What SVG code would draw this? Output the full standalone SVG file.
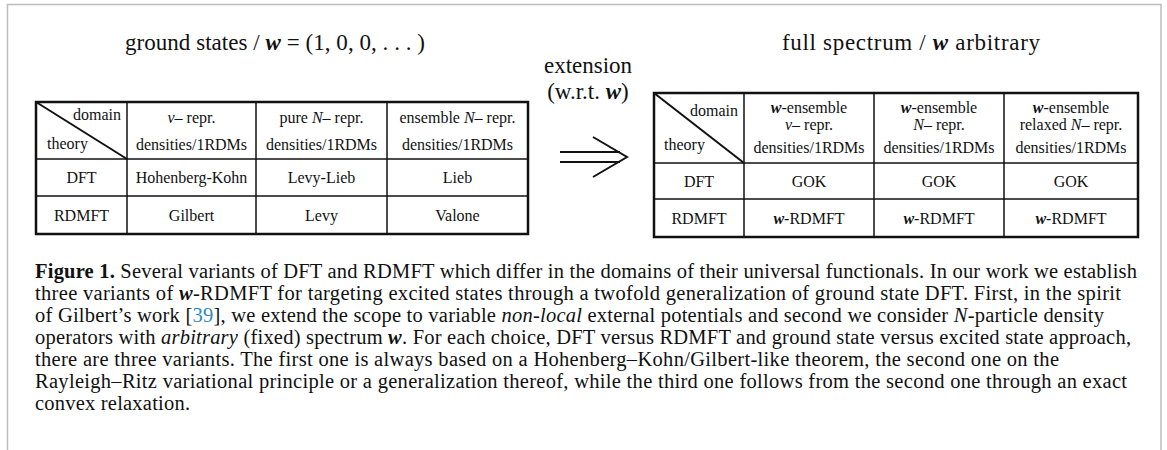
<svg xmlns="http://www.w3.org/2000/svg" width="1167" height="450" viewBox="0 0 1167 450">
<style>
.t{font-family:"Liberation Serif","DejaVu Serif",serif;fill:#111;}
.c{font-size:16px;text-anchor:middle;}
.h{font-size:23px;}
.cap{font-size:20.5px;}
.b{font-weight:bold;}
.i{font-style:italic;}
.bi{font-weight:bold;font-style:italic;}
.outer{fill:none;stroke:#111;stroke-width:2.5;}
.inner{stroke:#111;stroke-width:1.5;}
.diag{stroke:#111;stroke-width:2;}
.frame{stroke:#bdbdbd;stroke-width:1.5;fill:none;}
.arr{stroke:#111;stroke-width:2;fill:none;}
</style>
<rect width="1167" height="450" fill="#fff"/>
<g id="frame">
<polyline class="frame" points="7.5,450 7.5,4.5 1161,4.5 1161,450"/>
</g>
<g id="title-left">
<text class="t h" x="125" y="50" textLength="300" lengthAdjust="spacing">ground states / <tspan class="bi">w</tspan> = (1, 0, 0, . . . )</text>
</g>
<g id="title-right">
<text class="t h" x="782" y="50" textLength="258" lengthAdjust="spacing">full spectrum / <tspan class="bi">w</tspan> arbitrary</text>
</g>
<g id="extension-label">
<text class="t h" x="588" y="73" text-anchor="middle">extension</text>
<text class="t h" x="588" y="99" text-anchor="middle">(w.r.t. <tspan class="bi">w</tspan>)</text>
</g>
<g id="connectors">
<line class="arr" x1="560" y1="152" x2="620" y2="152"/>
<line class="arr" x1="560" y1="162" x2="620" y2="162"/>
<polyline class="arr" points="593,137 627,157 593,177"/>
</g>
<g id="table-left">
<rect class="outer" x="36" y="102" width="492" height="132"/>
<line class="inner" x1="127" y1="102" x2="127" y2="234"/>
<line class="inner" x1="256" y1="102" x2="256" y2="234"/>
<line class="inner" x1="387" y1="102" x2="387" y2="234"/>
<line class="inner" x1="36" y1="159" x2="528" y2="159"/>
<line class="inner" x1="36" y1="196" x2="528" y2="196"/>
<line class="diag" x1="36" y1="102" x2="127" y2="159"/>
<text class="t c" x="121" y="120" style="text-anchor:end">domain</text>
<text class="t c" x="47" y="149" style="text-anchor:start">theory</text>
<text class="t c" x="191.5" y="123"><tspan class="i">v</tspan>– repr.</text>
<text class="t c" x="191.5" y="150">densities/1RDMs</text>
<text class="t c" x="321.5" y="123">pure <tspan class="i">N</tspan>– repr.</text>
<text class="t c" x="321.5" y="150">densities/1RDMs</text>
<text class="t c" x="457.5" y="123">ensemble <tspan class="i">N</tspan>– repr.</text>
<text class="t c" x="457.5" y="150">densities/1RDMs</text>
<text class="t c" x="81.5" y="183">DFT</text>
<text class="t c" x="191.5" y="183">Hohenberg-Kohn</text>
<text class="t c" x="321.5" y="183">Levy-Lieb</text>
<text class="t c" x="457.5" y="183">Lieb</text>
<text class="t c" x="81.5" y="220.5">RDMFT</text>
<text class="t c" x="191.5" y="220.5">Gilbert</text>
<text class="t c" x="321.5" y="220.5">Levy</text>
<text class="t c" x="457.5" y="220.5">Valone</text>
</g>
<g id="table-right">
<rect class="outer" x="654" y="93" width="484" height="144"/>
<line class="inner" x1="744" y1="93" x2="744" y2="237"/>
<line class="inner" x1="874" y1="93" x2="874" y2="237"/>
<line class="inner" x1="1004" y1="93" x2="1004" y2="237"/>
<line class="inner" x1="654" y1="163" x2="1138" y2="163"/>
<line class="inner" x1="654" y1="199" x2="1138" y2="199"/>
<line class="diag" x1="654" y1="93" x2="744" y2="163"/>
<text class="t c" x="738" y="116" style="text-anchor:end">domain</text>
<text class="t c" x="664" y="150" style="text-anchor:start">theory</text>
<text class="t c" x="809" y="113"><tspan class="bi">w</tspan>-ensemble</text>
<text class="t c" x="809" y="130"><tspan class="i">v</tspan>– repr.</text>
<text class="t c" x="809" y="153">densities/1RDMs</text>
<text class="t c" x="939" y="113"><tspan class="bi">w</tspan>-ensemble</text>
<text class="t c" x="939" y="130"><tspan class="i">N</tspan>– repr.</text>
<text class="t c" x="939" y="153">densities/1RDMs</text>
<text class="t c" x="1071" y="113"><tspan class="bi">w</tspan>-ensemble</text>
<text class="t c" x="1071" y="130">relaxed <tspan class="i">N</tspan>– repr.</text>
<text class="t c" x="1071" y="153">densities/1RDMs</text>
<text class="t c" x="699" y="186.5">DFT</text>
<text class="t c" x="809" y="186.5">GOK</text>
<text class="t c" x="939" y="186.5">GOK</text>
<text class="t c" x="1071" y="186.5">GOK</text>
<text class="t c" x="699" y="223.5">RDMFT</text>
<text class="t c" x="809" y="223.5"><tspan class="bi">w</tspan>-RDMFT</text>
<text class="t c" x="939" y="223.5"><tspan class="bi">w</tspan>-RDMFT</text>
<text class="t c" x="1071" y="223.5"><tspan class="bi">w</tspan>-RDMFT</text>
</g>
<g id="caption">
<text class="t cap" x="35" y="278" textLength="1102" lengthAdjust="spacing"><tspan class="b">Figure 1.</tspan> Several variants of DFT and RDMFT which differ in the domains of their universal functionals. In our work we establish</text>
<text class="t cap" x="35" y="300" textLength="1086" lengthAdjust="spacing">three variants of <tspan class="bi">w</tspan>-RDMFT for targeting excited states through a twofold generalization of ground state DFT. First, in the spirit</text>
<text class="t cap" x="35" y="322" textLength="1069" lengthAdjust="spacing">of Gilbert’s work [<tspan fill="#2a8cc8">39</tspan>], we extend the scope to variable <tspan class="i">non-local</tspan> external potentials and second we consider <tspan class="i">N</tspan>-particle density</text>
<text class="t cap" x="35" y="344" textLength="1096" lengthAdjust="spacing">operators with <tspan class="i">arbitrary</tspan> (fixed) spectrum <tspan class="bi">w</tspan>. For each choice, DFT versus RDMFT and ground state versus excited state approach,</text>
<text class="t cap" x="35" y="366" textLength="1024" lengthAdjust="spacing">there are three variants. The first one is always based on a Hohenberg–Kohn/Gilbert-like theorem, the second one on the</text>
<text class="t cap" x="35" y="388" textLength="1092" lengthAdjust="spacing">Rayleigh–Ritz variational principle or a generalization thereof, while the third one follows from the second one through an exact</text>
<text class="t cap" x="35" y="410" textLength="155" lengthAdjust="spacing">convex relaxation.</text>
</g>
</svg>
